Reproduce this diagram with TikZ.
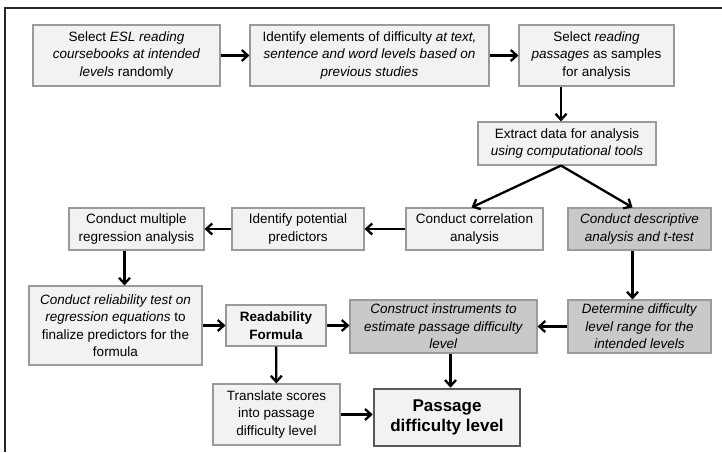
\documentclass[tikz,border=0pt]{standalone}
\usepackage{fontspec}
\setmainfont{Liberation Sans}
\usepackage{xcolor}
\usepackage{tikz}
\usetikzlibrary{arrows.meta}

\definecolor{boxfill}{HTML}{F2F2F2}
\definecolor{greyfill}{HTML}{C9C9C9}
\definecolor{boxline}{HTML}{9A9A9A}

\begin{document}
\begin{tikzpicture}[x=1pt, y=-1pt,
        font=\fontsize{13.5}{17.5}\selectfont,
        box/.style={draw=boxline, line width=1.1pt, fill=boxfill, align=center, inner sep=0pt},
        greybox/.style={box, fill=greyfill},
        arr/.style={-{Straight Barb[length=6pt, width=11pt]}, line width=2.3pt}]
        \useasboundingbox (0,0) rectangle (722,452);

        % Frame
        \draw[line width=1.6pt, black!85] (5,452) -- (5,8) -- (722,8);

        % Top row
        \node[box, minimum width=187, minimum height=61] (select) at (126.5,55.5)
            {Select \textit{ESL reading}\\ \textit{coursebooks at intended}\\ \textit{levels} randomly};
        \node[box, minimum width=239, minimum height=61] (elements) at (369.5,55.5)
            {Identify elements of difficulty \textit{at text,}\\ \textit{sentence and word levels based on}\\ \textit{previous studies}};
        \node[box, minimum width=155, minimum height=61] (passages) at (596.5,55.5)
            {Select \textit{reading}\\ \textit{passages} as samples\\ for analysis};
        \draw[arr] (select) -- (elements);
        \draw[arr] (elements) -- (passages);

        % Data extraction
        \node[box, minimum width=178, minimum height=43] (extract) at (567,143.5)
            {Extract data for analysis\\ \textit{using computational tools}};
        \draw[arr] ([xshift=-6pt]extract.north |- passages.south) -- ([xshift=-6pt]extract.north);

        % Analyses
        \node[box, minimum width=137, minimum height=42] (correlation) at (474.5,229)
            {Conduct correlation\\ analysis};
        \node[greybox, minimum width=143, minimum height=42] (descriptive) at (639.5,229)
            {\textit{Conduct descriptive}\\ \textit{analysis and t-test}};
        \draw[arr] ([xshift=-6pt]extract.south) -- ([xshift=-3pt]correlation.north);
        \draw[arr] ([xshift=-6pt]extract.south) -- ([xshift=-7pt]descriptive.north);

        \node[box, minimum width=132, minimum height=42] (predictors) at (298,229)
            {Identify potential\\ predictors};
        \node[box, minimum width=135, minimum height=42] (regression) at (136.5,229)
            {Conduct multiple\\ regression analysis};
        \draw[arr] (correlation) -- (predictors);
        \draw[arr] (predictors) -- (regression);

        % Reliability and formula
        \node[box, minimum width=173, minimum height=79] (reliability) at (115.5,325.5)
            {\textit{Conduct reliability test on}\\ \textit{regression equations} to\\ finalize predictors for the\\ formula};
        \draw[arr] ([xshift=-12pt]regression.south) -- ([xshift=-12pt]regression.south |- reliability.north);

        \node[box, minimum width=100, minimum height=41] (formula) at (276,325.5)
            {\textbf{Readability}\\ \textbf{Formula}};
        \draw[arr] (reliability) -- (formula);

        % Instruments
        \node[greybox, minimum width=187, minimum height=53] (instruments) at (443.5,326.5)
            {\textit{Construct instruments to}\\ \textit{estimate passage difficulty}\\ \textit{level}};
        \node[greybox, minimum width=143, minimum height=53] (range) at (639.5,326.5)
            {\textit{Determine difficulty}\\ \textit{level range for the}\\ \textit{intended levels}};
        \draw[arr] ([xshift=-7pt]descriptive.south) -- ([xshift=-7pt]range.north);
        \draw[arr] (formula.east) -- (formula.east -| instruments.west);
        \draw[arr] (range) -- (instruments);

        % Result
        \node[box, minimum width=127, minimum height=61] (translate) at (276.5,414.5)
            {Translate scores\\ into passage\\ difficulty level};
        \node[box, draw=black!65, line width=2.6pt, minimum width=146, minimum height=57,
              font=\fontsize{17}{20}\selectfont\bfseries] (difficulty) at (447,417.5)
            {Passage\\ difficulty level};
        \draw[arr] (formula) -- (translate);
        \draw[arr] (translate.east) -- (translate.east -| difficulty.west);
        \draw[arr] ([xshift=7pt]instruments.south) -- ([xshift=7pt]instruments.south |- difficulty.north);
    \end{tikzpicture}
\end{document}
